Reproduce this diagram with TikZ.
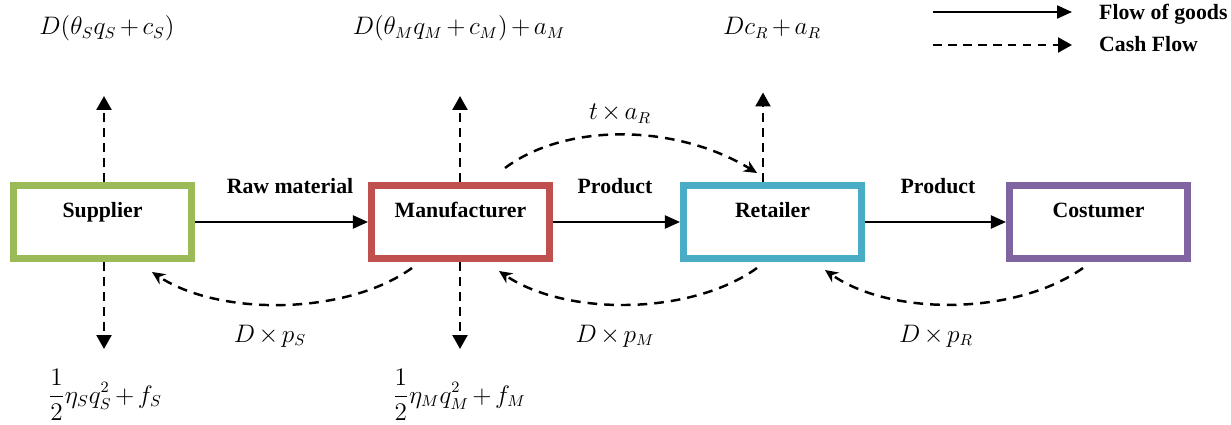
\documentclass[tikz,border=0pt]{standalone}
\usepackage{fontspec}
\setmainfont{Liberation Serif}
\usetikzlibrary{arrows.meta,positioning,calc}
\definecolor{supgreen}{RGB}{155,187,89}
\definecolor{manred}{RGB}{192,80,77}
\definecolor{retblue}{RGB}{75,172,198}
\definecolor{cuspurple}{RGB}{128,100,162}
\newcommand{\fml}[1]{{\fontsize{13.5}{16}\selectfont$\medmuskip=2.5mu #1$}}
\tikzset{
  tier/.style={draw,line width=4pt,fill=white,inner sep=0pt,minimum width=3.56cm,
    minimum height=1.46cm,font=\fontsize{12.4}{14}\selectfont\bfseries,text height=0.3cm,text depth=0.5cm},
  goods/.style={line width=1.2pt,-{Triangle[length=0.30cm,width=0.26cm]}},
  cash/.style={line width=1.4pt,dash pattern=on 5pt off 3.5pt,-{Triangle[length=0.28cm,width=0.30cm]}},
  cashc/.style={line width=1.4pt,dash pattern=on 5.5pt off 4pt,-{Stealth[length=0.26cm,width=0.24cm]}},
  tag/.style={font=\fontsize{12.4}{14}\selectfont\bfseries,anchor=base},
}

\begin{document}
\begin{tikzpicture}[font=\fontsize{12}{14}\selectfont]
  \useasboundingbox (0,0) rectangle (24.62,8.48);
  % chain members
  \node[tier,draw=supgreen] (sup) at (2.05,4.04) {Supplier};
  \node[tier,draw=manred] (man) at (9.21,4.04) {Manufacturer};
  \node[tier,draw=retblue] (ret) at (15.45,4.04) {Retailer};
  \node[tier,draw=cuspurple] (cus) at (21.97,4.04) {Costumer};
  % flow of goods
  \draw[goods] (sup) -- (man);
  \draw[goods] (man) -- (ret);
  \draw[goods] (ret) -- (cus);
  \node[tag] (raw) at (5.80,4.62) {Raw material};
  \node[tag] (prodA) at (12.30,4.62) {Product};
  \node[tag] (prodB) at (18.76,4.62) {Product};
  % costs going out
  \coordinate (supUp) at (2.08,6.56);
  \coordinate (supDn) at (2.08,1.50);
  \coordinate (manUp) at (9.20,6.56);
  \coordinate (manDn) at (9.20,1.50);
  \coordinate (retUp) at (15.26,6.63);
  \draw[cash] (sup.north -| supUp) -- (supUp);
  \draw[cash] (sup.south -| supDn) -- (supDn);
  \draw[cash] (man.north -| manUp) -- (manUp);
  \draw[cash] (man.south -| manDn) -- (manDn);
  \draw[cash] (ret.north -| retUp) -- (retUp);
  \node[anchor=base] (costS) at (2.14,7.78) {\fml{D(\theta_S q_S+c_S)}};
  \node[anchor=base] (costM) at (9.18,7.78) {\fml{D(\theta_M q_M+c_M)+a_M}};
  \node[anchor=base] (costR) at (15.44,7.78) {\fml{Dc_R+a_R}};
  \node (fixS) at (2.10,0.58) {\fml{\displaystyle\frac{1}{2}\eta_S q_S^2+f_S}};
  \node (fixM) at (9.18,0.58) {\fml{\displaystyle\frac{1}{2}\eta_M q_M^2+f_M}};
  % payments
  \draw[cashc] ($(man.south)+(-0.97,-0.12)$) .. controls +(-1.34,-0.96) and +(1.32,-0.88) .. ($(sup.south east)+(-0.86,-0.20)$);
  \draw[cashc] ($(ret.south)+(-0.31,-0.12)$) .. controls +(-1.34,-0.96) and +(1.32,-0.90) .. ($(man.south east)+(-1.08,-0.18)$);
  \draw[cashc] ($(cus.south)+(-0.31,-0.12)$) .. controls +(-1.36,-0.96) and +(1.30,-0.92) .. ($(ret.south east)+(-0.80,-0.16)$);
  \draw[cashc] ($(man.north east)+(-0.96,0.28)$) .. controls +(1.20,0.90) and +(-1.64,1.00) .. ($(ret.north)+(-0.31,0.18)$);
  \node[anchor=base] (payS) at (5.40,1.64) {\fml{D\times p_S}};
  \node[anchor=base] (payM) at (12.30,1.64) {\fml{D\times p_M}};
  \node[anchor=base] (payR) at (18.72,1.64) {\fml{D\times p_R}};
  \node[anchor=base] (share) at (12.40,6.08) {\fml{t\times a_R}};
  % legend
  \coordinate (lgA) at (18.66,8.24);
  \coordinate (lgB) at (18.66,7.58);
  \draw[goods] (lgA) -- ++(2.78,0);
  \draw[cash] (lgB) -- ++(2.78,0);
  \node[tag,anchor=base west] (lgGoods) at (21.86,8.08) {Flow of goods};
  \node[tag,anchor=base west] (lgCash) at (21.86,7.44) {Cash Flow};
\end{tikzpicture}
\end{document}
